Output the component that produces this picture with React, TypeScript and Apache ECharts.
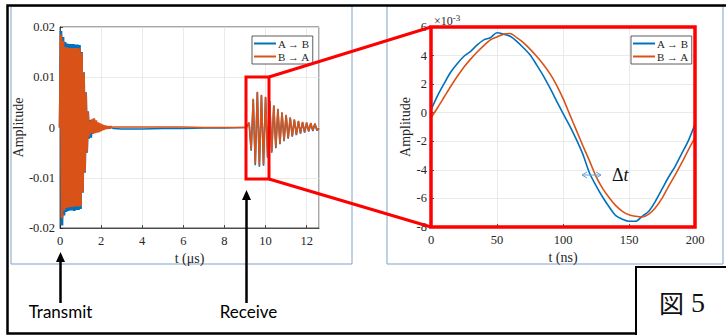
import React, { useEffect, useRef } from 'react';
import * as echarts from 'echarts';

const SERIES_NAMES = ['A → B', 'B → A'];
const COLORS = ['#0072BD', '#D95319'];

// ---- Left panel: whole record, t in µs ----
const TX_STEP_US = 0.05; // transmit burst samples, 0 .. 2.5 µs
const txAB = [0, 0.0192, -0.0195, 0.018, -0.0175, 0.017, -0.0168, 0.0167, -0.0166, 0.0166, -0.0165, 0.0166, -0.0165, 0.0166, -0.0166, 0.0165, -0.0164, 0.0165, -0.0164, 0.0164, -0.0162, 0.015, -0.013, 0.011, -0.009, 0.007, -0.005, 0.0032, -0.0022, 0.0015, -0.002, 0.001, -0.0012, 0.001, -0.001, 0.0008, -0.0008, 0.0007, -0.0006, 0.0005, -0.0005, 0.0004, -0.0003, 0.0003, -0.0002, 0.0002, -0.0002, 0.0001, -0.0001, 0.0001, 0];
const txBA = [0, 0.0185, -0.018, 0.0172, -0.0165, 0.016, -0.016, 0.0159, -0.0159, 0.0158, -0.0158, 0.0158, -0.0158, 0.0158, -0.0157, 0.0158, -0.0157, 0.0158, -0.0157, 0.0157, -0.0156, 0.0148, -0.0128, 0.0108, -0.0088, 0.0068, -0.0048, 0.003, -0.0018, 0.0012, -0.0012, 0.0016, -0.0012, 0.0018, -0.0011, 0.0014, -0.001, 0.001, -0.0009, 0.0008, -0.0007, 0.0006, -0.0005, 0.0004, -0.0003, 0.0003, -0.0002, 0.0002, -0.0001, 0.0001, 0];
const quietTimes = [2.6, 3.0, 4.0, 5.0, 6.0, 7.0, 8.0, 8.9];
const quietAB = [-0.0002, -0.0003, -0.0003, -0.0002, -0.0002, -0.0001, -0.0001, 0];
const quietBA = [0.0001, 0.0001, 0.0001, 0.0001, 0.0001, 0, 0, 0];
const RX_START_US = 9.0; // receive burst samples, 9.0 .. 12.6 µs
const RX_STEP_US = 0.1;
const rxAB = [0, 0.0002, 0.0009, -0.0046, 0.0056, -0.0075, 0.007, -0.0078, 0.0064, -0.0076, 0.006, -0.006, 0.0052, -0.005, 0.0043, -0.0041, 0.0036, -0.0033, 0.0029, -0.0027, 0.0024, -0.0022, 0.0019, -0.0018, 0.0015, -0.0015, 0.0012, -0.0012, 0.001, -0.001, 0.0009, -0.0008, 0.0008, -0.0007, 0.0007, -0.0006, -0.0002];
const rxBA = [0, 0.0002, 0.001, -0.0043, 0.0057, -0.0072, 0.0071, -0.0075, 0.0065, -0.0073, 0.0061, -0.0058, 0.0053, -0.0048, 0.0044, -0.0039, 0.0037, -0.0032, 0.003, -0.0026, 0.0025, -0.0021, 0.002, -0.0017, 0.0016, -0.0014, 0.0013, -0.0011, 0.0011, -0.0009, 0.001, -0.0007, 0.0009, -0.0006, 0.0008, -0.0005, -0.0001];

// ---- Right panel: zoom of one cycle, t in ns, amplitude in 1e-3 ----
const ZOOM_STEP_NS = 5;
const zoomAB = [0.2, 1.2, 2.05, 2.85, 3.45, 3.95, 4.3, 4.75, 5.1, 5.25, 5.6, 5.5, 5.35, 5.0, 4.55, 4.05, 3.35, 2.6, 1.75, 0.85, -0.05, -0.9, -1.85, -2.9, -4.2, -5.1, -5.9, -6.6, -7.2, -7.45, -7.6, -7.6, -7.25, -6.9, -6.2, -5.35, -4.5, -3.75, -2.85, -1.95, -0.8];
const zoomBA = [-0.35, 0.35, 1.1, 1.85, 2.55, 3.2, 3.75, 4.25, 4.7, 5.1, 5.3, 5.5, 5.55, 5.25, 4.9, 4.45, 3.95, 3.4, 2.75, 1.95, 1.0, -0.1, -1.2, -2.3, -3.35, -4.45, -5.3, -5.95, -6.5, -6.9, -7.15, -7.25, -7.3, -7.1, -6.65, -6.0, -5.15, -4.35, -3.5, -2.6, -1.75];

function buildTx(tx: number[]) {
  return tx.map((v, i) => [+(i * TX_STEP_US).toFixed(3), v]);
}
function buildRest(tx: number[], quiet: number[], rx: number[]) {
  const d: number[][] = [[+((tx.length - 1) * TX_STEP_US).toFixed(3), tx[tx.length - 1]]];
  quietTimes.forEach((t, i) => d.push([t, quiet[i]]));
  rx.forEach((v, i) => d.push([+(RX_START_US + i * RX_STEP_US).toFixed(3), v]));
  return d;
}
function buildZoom(vals: number[]) {
  return vals.map((v, i) => [i * ZOOM_STEP_NS, v]);
}

const SERIF = 'Liberation Serif';
const AX = '#262626';
const labelStyle = { fontFamily: SERIF, fontSize: 12.5, color: AX };
const nameStyle = { fontFamily: SERIF, fontSize: 14, color: AX };

function axisCommon() {
  return {
    type: 'value' as const,
    axisLine: { show: true, onZero: false, lineStyle: { color: AX, width: 0.8 } },
    axisTick: { show: true, inside: true, length: 3, lineStyle: { color: AX, width: 0.8 } },
    splitLine: { show: true, lineStyle: { color: '#e4e4e4', width: 0.8 } },
    nameLocation: 'middle' as const,
    nameTextStyle: nameStyle,
  };
}

function legend(left: number) {
  return {
    left,
    top: 36,
    orient: 'vertical',
    icon: 'rect',
    itemGap: 2,
    itemWidth: 22,
    itemHeight: 2,
    padding: [2, 3, 2, 2],
    borderColor: '#333',
    borderWidth: 0.8,
    borderRadius: 0,
    backgroundColor: '#fff',
    selectedMode: false,
    textStyle: { fontFamily: SERIF, fontSize: 11, color: AX, padding: [0, 0, 0, -3] },
    data: SERIES_NAMES,
  };
}

function arrowUp(x: number, tipY: number, baseY: number) {
  return [
    { type: 'line', z: 100, shape: { x1: x, y1: baseY, x2: x, y2: tipY + 6 }, style: { stroke: '#000', lineWidth: 2.5 } },
    { type: 'polygon', z: 100, shape: { points: [[x, tipY], [x - 4.5, tipY + 10], [x + 4.5, tipY + 10]] }, style: { fill: '#000' } },
  ];
}

function lineSeries(name: string, color: string, data: number[][], axis: number, width: number, z: number, smooth = 0) {
  return {
    type: 'line', name, xAxisIndex: axis, yAxisIndex: axis, data,
    symbol: 'none', showSymbol: false, smooth, z,
    lineStyle: { color, width }, itemStyle: { color },
  };
}

export default function App() {
  const ref = useRef<HTMLDivElement>(null);
  useEffect(() => {
    if (!ref.current) return;
    const chart = echarts.init(ref.current, null, { renderer: 'svg' });
    const red = '#ff0000';
    const option: any = {
      animation: false,
      backgroundColor: '#ffffff',
      grid: [
        { left: 60, top: 27, width: 259, height: 201, show: true, borderColor: AX, borderWidth: 0.8, backgroundColor: 'transparent' },
        { left: 431, top: 27, width: 264, height: 200, show: true, borderColor: AX, borderWidth: 0.8, backgroundColor: 'transparent' },
      ],
      legend: [legend(252), legend(631)],
      xAxis: [
        {
          ...axisCommon(), gridIndex: 0, min: 0, max: 12.6, interval: 2,
          name: 't (μs)', nameGap: 21,
          axisLabel: { ...labelStyle, margin: 6, showMaxLabel: false },
        },
        {
          ...axisCommon(), gridIndex: 1, min: 0, max: 200, interval: 50,
          name: 't (ns)', nameGap: 21,
          axisLabel: { ...labelStyle, margin: 6 },
        },
      ],
      yAxis: [
        {
          ...axisCommon(), gridIndex: 0, min: -0.02, max: 0.02, interval: 0.01,
          name: 'Amplitude', nameGap: 31,
          axisLabel: {
            ...labelStyle, margin: 5,
            formatter: (v: number) => {
              const r = Math.round(v * 100) / 100;
              return r === 0 ? '0' : String(r);
            },
          },
        },
        {
          ...axisCommon(), gridIndex: 1, min: -8, max: 6, interval: 2,
          name: 'Amplitude', nameGap: 16,
          axisLabel: { ...labelStyle, margin: 4 },
        },
      ],
      series: [
        lineSeries(SERIES_NAMES[0], COLORS[0], buildTx(txAB), 0, 2.6, 2),
        lineSeries(SERIES_NAMES[0], COLORS[0], buildRest(txAB, quietAB, rxAB), 0, 1.6, 2),
        lineSeries(SERIES_NAMES[1], COLORS[1], buildTx(txBA), 0, 2.6, 3),
        lineSeries(SERIES_NAMES[1], COLORS[1], buildRest(txBA, quietBA, rxBA), 0, 1.6, 3),
        lineSeries(SERIES_NAMES[0], COLORS[0], buildZoom(zoomAB), 1, 1.6, 2, 0.3),
        lineSeries(SERIES_NAMES[1], COLORS[1], buildZoom(zoomBA), 1, 1.6, 3, 0.3),
      ],
      graphic: [
        // panel frames
        { type: 'rect', z: 0, shape: { x: 11, y: 6, width: 341, height: 258 }, style: { fill: 'none', stroke: '#7fa3c9', lineWidth: 1 } },
        { type: 'rect', z: 0, shape: { x: 387, y: 6, width: 336, height: 258 }, style: { fill: 'none', stroke: '#7fa3c9', lineWidth: 1 } },
        // outer black frame
        { type: 'polyline', z: 100, shape: { points: [[636, 333.5], [7.5, 333.5], [7.5, 5.5], [726, 5.5]] }, style: { fill: 'none', stroke: '#000', lineWidth: 2.5 } },
        // figure number box
        { type: 'polyline', z: 100, shape: { points: [[726, 267], [636, 267], [636, 335]] }, style: { fill: 'none', stroke: '#000', lineWidth: 2 } },
        {
          type: 'text', z: 100, x: 682, y: 302,
          style: {
            text: '{a|図}{b| 5}', align: 'center', verticalAlign: 'middle', textAlign: 'center', textVerticalAlign: 'middle',
            rich: {
              a: { fontFamily: 'Noto Sans CJK JP', fontSize: 25, fill: '#111' },
              b: { fontFamily: SERIF, fontSize: 28, fill: '#111' },
            },
          },
        },
        // red zoom box & connectors
        { type: 'rect', z: 100, shape: { x: 246, y: 77, width: 23, height: 102 }, style: { fill: 'none', stroke: red, lineWidth: 3 } },
        { type: 'line', z: 100, shape: { x1: 269, y1: 77, x2: 431, y2: 27 }, style: { stroke: red, lineWidth: 3 } },
        { type: 'line', z: 100, shape: { x1: 269, y1: 179, x2: 431, y2: 227 }, style: { stroke: red, lineWidth: 3 } },
        { type: 'rect', z: 100, shape: { x: 431, y: 27, width: 264, height: 200 }, style: { fill: 'none', stroke: red, lineWidth: 3.5 } },
        // ×10^-3 exponent
        {
          type: 'text', z: 101, x: 434, y: 21,
          style: {
            text: '{a|×10}{b|-3}', align: 'left', verticalAlign: 'middle', textAlign: 'left', textVerticalAlign: 'middle',
            rich: {
              a: { fontFamily: SERIF, fontSize: 12, fill: AX },
              b: { fontFamily: SERIF, fontSize: 9, fill: AX, padding: [0, 0, 7, 0] },
            },
          },
        },
        // Δt annotation
        { type: 'line', z: 101, shape: { x1: 582, y1: 175, x2: 601, y2: 175 }, style: { stroke: '#6a9fd4', lineWidth: 1 } },
        { type: 'polyline', z: 101, shape: { points: [[587, 172], [582, 175], [587, 178]] }, style: { fill: 'none', stroke: '#6a9fd4', lineWidth: 1 } },
        { type: 'polyline', z: 101, shape: { points: [[596, 172], [601, 175], [596, 178]] }, style: { fill: 'none', stroke: '#6a9fd4', lineWidth: 1 } },
        {
          type: 'text', z: 101, x: 612, y: 175,
          style: {
            text: '{d|Δ}{t|t}', align: 'left', verticalAlign: 'middle', textAlign: 'left', textVerticalAlign: 'middle',
            rich: {
              d: { fontFamily: SERIF, fontSize: 18, fill: '#111' },
              t: { fontFamily: SERIF, fontSize: 18, fontStyle: 'italic', fill: '#111' },
            },
          },
        },
        // Transmit / Receive arrows
        ...arrowUp(60.5, 252, 303),
        ...arrowUp(246.5, 190, 303),
        { type: 'text', z: 100, x: 60.5, y: 311, style: { text: 'Transmit', fontFamily: 'Lato', fontSize: 17, fill: '#000', align: 'center', verticalAlign: 'middle', textAlign: 'center', textVerticalAlign: 'middle' } },
        { type: 'text', z: 100, x: 248.5, y: 311, style: { text: 'Receive', fontFamily: 'Lato', fontSize: 17, fill: '#000', align: 'center', verticalAlign: 'middle', textAlign: 'center', textVerticalAlign: 'middle' } },
      ],
    };
    chart.setOption(option);
    return () => chart.dispose();
  }, []);
  return <div ref={ref} style={{ position: 'fixed', left: 0, top: 0, width: 726, height: 335, background: '#fff' }} />;
}
